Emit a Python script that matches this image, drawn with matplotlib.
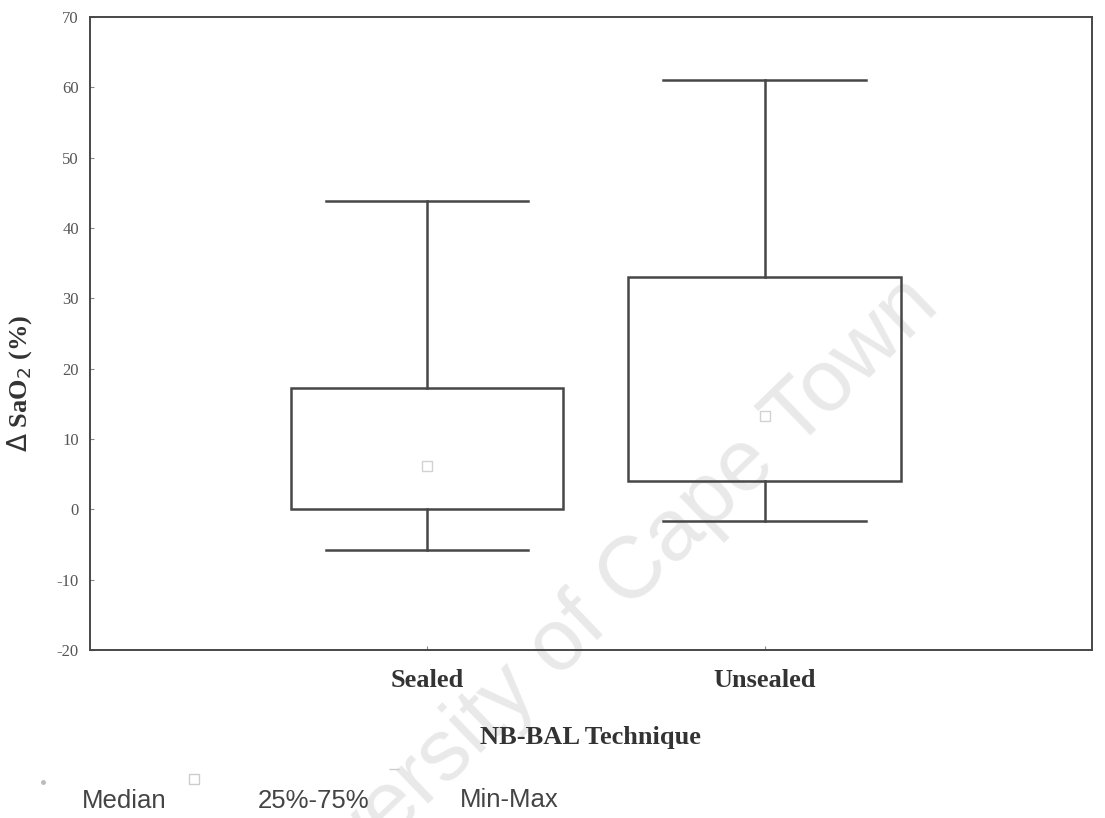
import matplotlib.pyplot as plt
from matplotlib.lines import Line2D
from matplotlib.patches import Rectangle

groups = ["Sealed", "Unsealed"]
minimum = [-5.8, -1.6]
q1 = [0.0, 4.1]
median = [6.2, 13.3]
q3 = [17.2, 33.1]
maximum = [43.9, 61.0]

yticks = list(range(-20, 80, 10))

serif = ["Liberation Serif", "DejaVu Serif"]
sans = ["Liberation Sans", "DejaVu Sans"]
ink = "#474747"

fig = plt.figure(figsize=(11.05, 8.18), dpi=100)
ax = fig.add_axes([0.0814, 0.2054, 0.9066, 0.7736])

# scanned-page watermark, kept behind everything
fig.text(0.531, 0.242, "University of Cape Town", rotation=44, fontsize=63,
         family=sans, color="#e9e9e9", ha="center", va="center", zorder=-1)
ax.patch.set_alpha(0)

box_w = 0.807
cap_w = 0.60
lw = 1.8
for i, g in enumerate(groups):
    x = i + 1
    ax.add_patch(Rectangle((x - box_w / 2, q1[i]), box_w, q3[i] - q1[i],
                           fill=False, edgecolor=ink, linewidth=lw, zorder=3))
    ax.plot([x, x], [q3[i], maximum[i]], color=ink, linewidth=lw, zorder=3)
    ax.plot([x, x], [minimum[i], q1[i]], color=ink, linewidth=lw, zorder=3)
    ax.plot([x - cap_w / 2, x + cap_w / 2], [maximum[i]] * 2, color=ink, linewidth=lw, zorder=3)
    ax.plot([x - cap_w / 2, x + cap_w / 2], [minimum[i]] * 2, color=ink, linewidth=lw, zorder=3)
    ax.plot(x, median[i], marker="s", markersize=7, markerfacecolor="none",
            markeredgecolor="#d2d2d2", markeredgewidth=1.0, zorder=4)

ax.set_xlim(0, 2.97)
ax.set_ylim(-20, 70)
ax.set_yticks(yticks)
ax.set_yticklabels([str(t) for t in yticks], family=serif, fontsize=12, color="#555555")
ax.set_xticks([1, 2])
ax.set_xticklabels(groups, family=serif, fontsize=19, fontweight="bold", color="#333333")
ax.tick_params(axis="both", direction="in", length=3, color="#888888")
ax.tick_params(axis="x", pad=14)
ax.tick_params(axis="y", pad=8)
for s in ax.spines.values():
    s.set_color(ink)
    s.set_linewidth(1.4)

ax.set_ylabel(r"$\Delta$ SaO$_2$ (%)", family=serif, fontsize=19, fontweight="bold",
              color="#333333")
ax.yaxis.set_label_coords(-0.056, 0.422)
ax.set_xlabel("NB-BAL Technique", family=serif, fontsize=19, fontweight="bold",
              color="#333333", labelpad=24)

# legend row along the bottom
fig.add_artist(Line2D([0.039], [0.044], marker="o", markersize=2.5, color="#bbbbbb",
                      linestyle="none", transform=fig.transFigure))
fig.text(0.0742, 0.012, "Median", family=sans, fontsize=18.5, color="#444444")
fig.add_artist(Line2D([0.176], [0.048], marker="s", markersize=7, markerfacecolor="none",
                      markeredgecolor="#cccccc", linestyle="none", transform=fig.transFigure))
fig.text(0.2335, 0.012, "25%-75%", family=sans, fontsize=18.5, color="#444444")
fig.add_artist(Line2D([0.357], [0.060], marker="_", markersize=7, color="#cccccc",
                      linestyle="none", transform=fig.transFigure))
fig.text(0.416, 0.014, "Min-Max", family=sans, fontsize=18.5, color="#444444")

fig.savefig("out.png", dpi=100)
